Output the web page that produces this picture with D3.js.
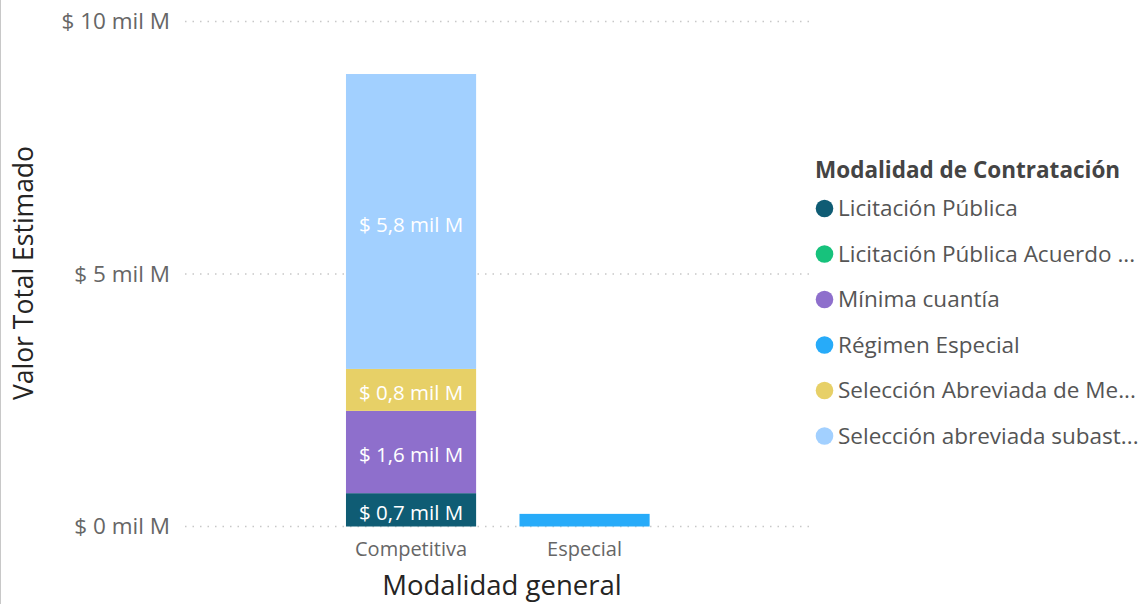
<!DOCTYPE html>
<html>
<head>
<meta charset="utf-8">
<title>Valor Total Estimado por Modalidad</title>
<style>
  body { margin: 0; background: #fff; }
  svg { display: block; }
  text { font-family: 'Segoe UI', 'Open Sans', sans-serif; }
</style>
<script src="https://d3js.org/d3.v7.min.js"></script>
</head>
<body>
<div id="chart"></div>
<script>
// categories on the x axis
var categories = ["Competitiva", "Especial"];
// legend series (stack order bottom to top)
var series = ["Licitación Pública", "Licitación Pública Acuerdo ...", "Mínima cuantía",
              "Régimen Especial", "Selección Abreviada de Me...", "Selección abreviada subast..."];
var seriesColors = ["#0f5c74", "#17c27c", "#8e6fcc", "#27abf9", "#e7d067", "#a2d0ff"];
// values in "mil M" per category, one array per series
var licitacion     = [0.66, 0];
var licitacionAc   = [0, 0];
var minima         = [1.63, 0];
var regimen        = [0, 0.25];
var seleccionMe    = [0.83, 0];
var seleccionSub   = [5.84, 0];
var yTicks = [0, 5, 10];

var W = 1147, H = 604;
var svg = d3.select("#chart").append("svg").attr("width", W).attr("height", H);

// left frame edge
svg.append("line").attr("x1", 0.5).attr("x2", 0.5).attr("y1", 0).attr("y2", H)
   .attr("stroke", "#c8c8c8");

var y = d3.scaleLinear().domain([0, 10]).range([526.5, 21.5]);
var x = d3.scaleBand().domain(categories).range([302.6, 693]).paddingInner(0.25).paddingOuter(0.25);

// gridlines
svg.append("g").selectAll("line").data(yTicks).join("line")
   .attr("x1", 185).attr("x2", 810)
   .attr("y1", d => y(d)).attr("y2", d => y(d))
   .attr("stroke", "#c8c8c8").attr("stroke-width", 1.5)
   .attr("stroke-dasharray", "1.5,6");

// y axis labels
svg.append("g").selectAll("text").data(yTicks).join("text")
   .attr("x", 170).attr("y", d => y(d)).attr("dy", "0.35em")
   .attr("text-anchor", "end").attr("font-size", 22.5).attr("fill", "#666")
   .text(d => "$ " + d + " mil M");

// y title
svg.append("text")
   .attr("transform", "translate(33,273) rotate(-90)")
   .attr("text-anchor", "middle").attr("font-size", 26.5).attr("fill", "#252423")
   .text("Valor Total Estimado");

// x labels
svg.append("g").selectAll("text").data(categories).join("text")
   .attr("x", d => x(d) + x.bandwidth() / 2).attr("y", 556)
   .attr("text-anchor", "middle").attr("font-size", 20).attr("fill", "#666")
   .text(d => d);

svg.append("text").attr("x", 502).attr("y", 595)
   .attr("text-anchor", "middle").attr("font-size", 27.5).attr("fill", "#252423")
   .text("Modalidad general");

// stacked data
var table = categories.map(function(c, i) {
  var row = {cat: c};
  row[series[0]] = licitacion[i];
  row[series[1]] = licitacionAc[i];
  row[series[2]] = minima[i];
  row[series[3]] = regimen[i];
  row[series[4]] = seleccionMe[i];
  row[series[5]] = seleccionSub[i];
  return row;
});
var stacked = d3.stack().keys(series)(table);

var fmt = v => "$ " + v.toFixed(1).replace(".", ",") + " mil M";

var layers = svg.append("g").selectAll("g").data(stacked).join("g")
   .attr("fill", (d, i) => seriesColors[i]);

layers.selectAll("rect").data(d => d).join("rect")
   .attr("x", d => x(d.data.cat))
   .attr("width", x.bandwidth())
   .attr("y", d => y(d[1]))
   .attr("height", d => y(d[0]) - y(d[1]));

layers.selectAll("text").data(d => d.filter(p => (y(p[0]) - y(p[1])) > 25)).join("text")
   .attr("x", d => x(d.data.cat) + x.bandwidth() / 2)
   .attr("y", d => (y(d[0]) + y(d[1])) / 2 + 3)
   .attr("dy", "0.35em")
   .attr("text-anchor", "middle").attr("font-size", 20.5).attr("fill", "#fff")
   .text(d => fmt(d[1] - d[0]));

// legend
svg.append("text").attr("x", 815).attr("y", 178)
   .attr("font-size", 22.5).attr("font-weight", "bold").attr("fill", "#444")
   .text("Modalidad de Contratación");

var leg = svg.append("g").selectAll("g").data(series).join("g")
   .attr("transform", (d, i) => "translate(0," + (208.5 + i * 45.5) + ")");
leg.append("circle").attr("cx", 824.5).attr("cy", 0).attr("r", 8.8)
   .attr("fill", (d, i) => seriesColors[i]);
leg.append("text").attr("x", 838).attr("y", 0).attr("dy", "0.35em")
   .attr("font-size", 22.5).attr("fill", "#555")
   .text(d => d);
</script>
</body>
</html>
